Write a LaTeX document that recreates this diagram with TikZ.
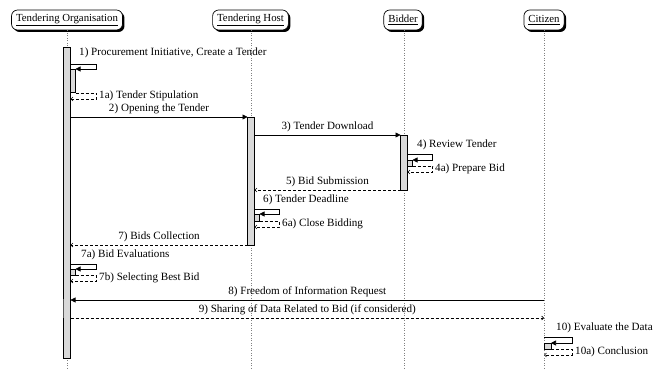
\documentclass[tikz,border=0pt]{standalone}
\usepackage{fontspec}
\setmainfont{Liberation Serif}
\usetikzlibrary{shadows,arrows.meta}
\tikzset{
  inst/.style={draw, line width=0.7pt, rounded corners=6pt, fill=white,
    drop shadow={shadow xshift=2pt, shadow yshift=-2pt, fill=black, opacity=1},
    inner xsep=4.5pt, inner ysep=0pt, minimum height=20pt, font=\fontsize{10.8}{12}\selectfont},
  life/.style={dotted, gray, line width=0.5pt},
  actbar/.style={draw, line width=0.6pt, fill=gray!30},
  callarr/.style={line width=0.65pt, -{Triangle[length=5pt,width=5pt]}},
  retarr/.style={line width=0.65pt, dash pattern=on 3pt off 2pt, -{Straight Barb[length=2pt,width=4pt]}},
  lbl/.style={font=\fontsize{11.1}{12}\selectfont, inner sep=1pt},
}
\begin{document}
\begin{tikzpicture}[x=1pt,y=-1pt]
\useasboundingbox (0,0) rectangle (663,369);
% instances
\node[inst] (org) at (67,20) {\underline{Tendering Organisation}};
\node[inst] (host) at (250.5,20) {\underline{Tendering Host}};
\node[inst] (bid) at (403,20) {\underline{Bidder}};
\node[inst] (cit) at (544,20) {\underline{Citizen}};
% lifeline ends
\coordinate (orgE) at (67,369);
\coordinate (hostE) at (251,369);
\coordinate (bidE) at (404,369);
\coordinate (citE) at (544,369);
\draw[life] (org.south) -- (orgE);
\draw[life] (host.south -| hostE) -- (hostE);
\draw[life] (bid.south -| bidE) -- (bidE);
\draw[life] (cit.south) -- (citE);
% activation bars
\draw[actbar] (63.5,47) rectangle (70.5,358);
\draw[line width=0.9pt, gray!70!black] (63.5,299) -- (63.5,318);
\draw[actbar] (247.5,117) rectangle (254.5,245);
\draw[actbar] (400.5,135) rectangle (407.5,190);
\draw[actbar] (70.5,69) rectangle (75.5,92);
\draw[actbar] (407.5,160) rectangle (412.5,166);
\draw[actbar] (254.5,214) rectangle (259.5,221);
\draw[actbar] (70.5,269) rectangle (75.5,275);
\draw[actbar] (544,343) rectangle (551,349);
% coordinates of messages
\coordinate (a1) at (70.5,64); \coordinate (b1) at (75.5,69);
\coordinate (a1r) at (75.5,93); \coordinate (b1r) at (70.5,99);
\coordinate (a2) at (70.5,117); \coordinate (b2) at (247.5,117);
\coordinate (a3) at (254.5,135); \coordinate (b3) at (400.5,135);
\coordinate (a4) at (407.5,154); \coordinate (b4) at (412.5,160);
\coordinate (a4r) at (412.5,166); \coordinate (b4r) at (407.5,172);
\coordinate (a5) at (400.5,190); \coordinate (b5) at (254.5,190);
\coordinate (a6) at (254.5,209); \coordinate (b6) at (259.5,214);
\coordinate (a6r) at (259.5,221); \coordinate (b6r) at (254.5,227);
\coordinate (a7) at (247.5,245); \coordinate (b7) at (70.5,245);
\coordinate (a7a) at (70.5,264); \coordinate (b7a) at (75.5,269);
\coordinate (a7b) at (75.5,275); \coordinate (b7b) at (70.5,281);
\coordinate (a8) at (544,300); \coordinate (b8) at (70.5,300);
\coordinate (a9) at (70.5,318); \coordinate (b9) at (544,318);
\coordinate (a10) at (544,337); \coordinate (b10) at (551,343);
\coordinate (a10r) at (551,349); \coordinate (b10r) at (544,355);
% 1
\draw[callarr] (a1) -- ++(26,0) |- (b1);
\node[lbl, anchor=west] (l1) at (78,53) {1) Procurement Initiative, Create a Tender};
\draw[retarr] (a1r) -- ++(21,0) |- (b1r);
\node[lbl, anchor=west] (l1a) at (98,95.5) {1a) Tender Stipulation};
% 2
\draw[callarr] (a2) -- node[lbl, above=1.5pt] (l2) {2) Opening the Tender} (b2);
% 3
\draw[callarr] (a3) -- node[lbl, above=1.5pt] (l3) {3) Tender Download} (b3);
% 4
\draw[callarr] (a4) -- ++(25,0) |- (b4);
\node[lbl, anchor=west] (l4) at (416,145) {4) Review Tender};
\draw[retarr] (a4r) -- ++(20,0) |- (b4r);
\node[lbl, anchor=west] (l4a) at (434,168.5) {4a) Prepare Bid};
% 5
\draw[retarr] (a5) -- node[lbl, above=1.5pt] (l5) {5) Bid Submission} (b5);
% 6
\draw[callarr] (a6) -- ++(24.5,0) |- (b6);
\node[lbl, anchor=west] (l6) at (262,199.5) {6) Tender Deadline};
\draw[retarr] (a6r) -- ++(19.5,0) |- (b6r);
\node[lbl, anchor=west] (l6a) at (281,223.5) {6a) Close Bidding};
% 7
\draw[retarr] (a7) -- node[lbl, above=1.5pt] (l7) {7) Bids Collection} (b7);
\node[lbl, anchor=west] (l7a) at (80,254.5) {7a) Bid Evaluations};
\draw[callarr] (a7a) -- ++(25.5,0) |- (b7a);
\draw[retarr] (a7b) -- ++(20.5,0) |- (b7b);
\node[lbl, anchor=west] (l7b) at (98,277.5) {7b) Selecting Best Bid};
% 8
\draw[callarr] (a8) -- node[lbl, above=1.5pt] (l8) {8) Freedom of Information Request} (b8);
% 9
\draw[retarr] (a9) -- node[lbl, above=1.5pt] (l9) {9) Sharing of Data Related to Bid (if considered)} (b9);
% 10
\draw[callarr] (a10) -- ++(28,0) |- (b10);
\node[lbl, anchor=west] (l10) at (555,328) {10) Evaluate the Data};
\draw[retarr] (a10r) -- ++(21,0) |- (b10r);
\node[lbl, anchor=west] (l10a) at (574,351.5) {10a) Conclusion};
\end{tikzpicture}
\end{document}
